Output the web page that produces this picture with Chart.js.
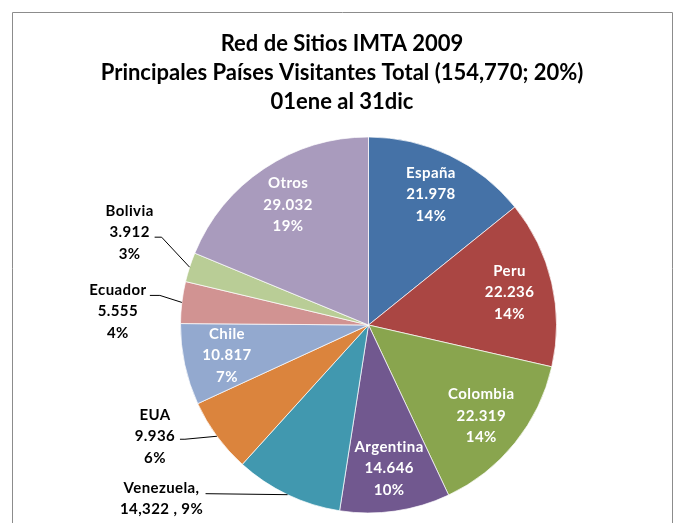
<!DOCTYPE html>
<html>
<head>
<meta charset="utf-8">
<title>Red de Sitios IMTA 2009</title>
<script src="https://cdn.jsdelivr.net/npm/chart.js@4.4.1/dist/chart.umd.min.js"></script>
<style>
  html, body { margin: 0; padding: 0; background: #fff; }
  #wrap { width: 677px; height: 523px; }
</style>
</head>
<body>
<div id="wrap"><canvas id="pieChart" width="677" height="523"></canvas></div>
<script>
// datos
const paises = ['España', 'Peru', 'Colombia', 'Argentina', 'Venezuela', 'EUA', 'Chile', 'Ecuador', 'Bolivia', 'Otros'];
const visitas = [21978, 22236, 22319, 14646, 14322, 9936, 10817, 5555, 3912, 29032];
const porcentajes = ['14%', '14%', '14%', '10%', '9%', '6%', '7%', '4%', '3%', '19%'];
const colores = ['#4572A7', '#AA4643', '#89A54E', '#71588F', '#4198AF', '#DB843D', '#93A9CF', '#D19392', '#B9CD96', '#A99BBD'];
const titulo = ['Red de Sitios IMTA 2009', 'Principales Países Visitantes Total (154,770; 20%)', '01ene al 31dic'];

const FUENTE = 'Lato, "Open Sans", sans-serif';

// etiquetas fuera del pastel: desplazamientos desde el borde del sector
// (linea guia: codo y fin, texto: centro del bloque)
const fuera = {
    4: { codo: [-82, -1], fin: [-82, -1], texto: [-126, 4] },
    5: { codo: [-32, 3], fin: [-37, 3], texto: [-62, 0] },
    7: { codo: [-22, -7], fin: [-32, -7], texto: [-64, 9] },
    8: { codo: [-28, -30], fin: [-35, -30], texto: [-60, -35] }
};

function miles(v, sep) {
    return String(v).replace(/\B(?=(\d{3})+(?!\d))/g, sep);
}

function lineas(i) {
    if (paises[i] === 'Venezuela') {
        return [paises[i] + ',', miles(visitas[i], ',') + ' , ' + porcentajes[i]];
    }
    return [paises[i], miles(visitas[i], '.'), porcentajes[i]];
}

function bloque(ctx, lines, x, y, color) {
    const alto = 21.5;
    ctx.fillStyle = color;
    ctx.textAlign = 'center';
    ctx.textBaseline = 'middle';
    const y0 = y - (lines.length - 1) * alto / 2;
    lines.forEach((t, k) => ctx.fillText(t, x, y0 + k * alto));
}

const marco = {
    id: 'marco',
    beforeDraw(chart) {
        const ctx = chart.ctx;
        ctx.save();
        ctx.strokeStyle = '#8c8c8c';
        ctx.lineWidth = 1;
        ctx.beginPath();
        ctx.moveTo(12.5, 530);
        ctx.lineTo(12.5, 12.5);
        ctx.lineTo(672.5, 12.5);
        ctx.lineTo(672.5, 530);
        ctx.stroke();

        ctx.font = 'bold 22px ' + FUENTE;
        ctx.fillStyle = '#000';
        ctx.textAlign = 'center';
        ctx.textBaseline = 'middle';
        const ys = [44, 73, 102];
        titulo.forEach((t, k) => ctx.fillText(t, 342, ys[k]));
        ctx.restore();
    }
};

const etiquetas = {
    id: 'etiquetas',
    afterDatasetsDraw(chart) {
        const ctx = chart.ctx;
        const meta = chart.getDatasetMeta(0);
        ctx.save();
        ctx.font = 'bold 15px ' + FUENTE;
        ctx.letterSpacing = '0.4px';
        meta.data.forEach((arc, i) => {
            const mid = (arc.startAngle + arc.endAngle) / 2;
            const f = fuera[i];
            if (f) {
                const ax = arc.x + Math.cos(mid) * arc.outerRadius;
                const ay = arc.y + Math.sin(mid) * arc.outerRadius;
                ctx.strokeStyle = '#000';
                ctx.lineWidth = 1;
                ctx.beginPath();
                ctx.moveTo(ax, ay);
                ctx.lineTo(ax + f.codo[0], ay + f.codo[1]);
                ctx.lineTo(ax + f.fin[0], ay + f.fin[1]);
                ctx.stroke();
                bloque(ctx, lineas(i), ax + f.texto[0], ay + f.texto[1], '#000');
            } else {
                const r = arc.outerRadius * 0.77;
                bloque(ctx, lineas(i), arc.x + Math.cos(mid) * r, arc.y + Math.sin(mid) * r, '#fff');
            }
        });
        ctx.restore();
    }
};

const ctx = document.getElementById('pieChart').getContext('2d');
const chart = new Chart(ctx, {
    type: 'pie',
    data: {
        labels: paises,
        datasets: [{
            data: visitas,
            backgroundColor: colores,
            borderColor: 'rgba(255,255,255,0.7)',
            borderWidth: 1,
            hoverOffset: 0
        }]
    },
    options: {
        responsive: false,
        animation: false,
        devicePixelRatio: 1,
        layout: {
            padding: { left: 180, right: 120, top: 136, bottom: 9 }
        },
        plugins: {
            legend: { display: false },
            tooltip: { enabled: false },
            title: { display: false }
        }
    },
    plugins: [marco, etiquetas]
});
</script>
</body>
</html>
